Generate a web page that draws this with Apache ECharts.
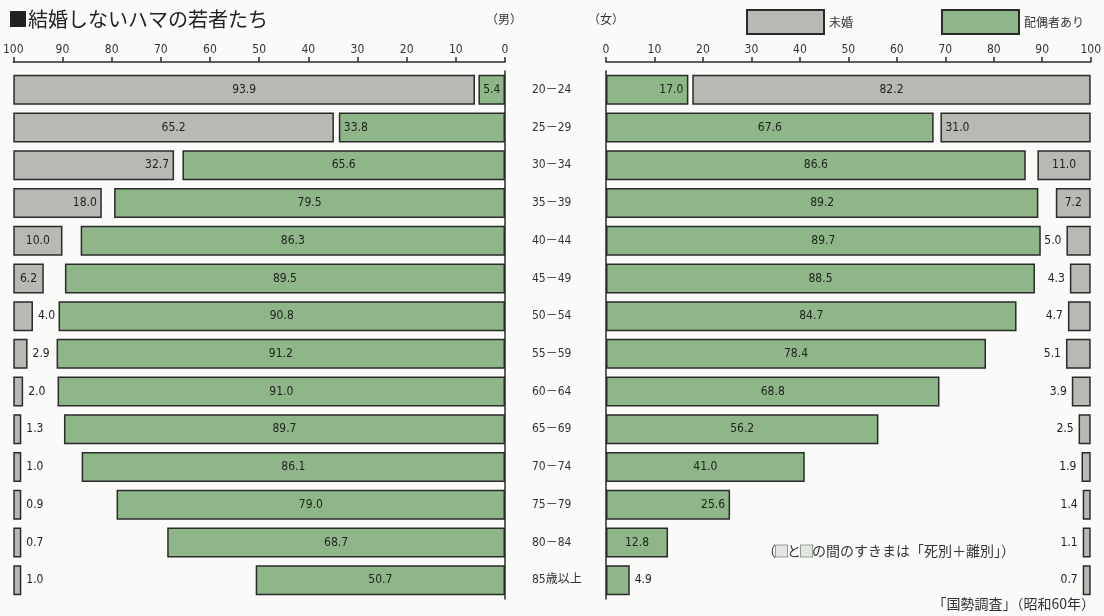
<!DOCTYPE html>
<html>
<head>
<meta charset="utf-8">
<title>結婚しないハマの若者たち</title>
<script src="https://cdn.jsdelivr.net/npm/echarts@6/dist/echarts.min.js"></script>
<style>
  html, body { margin: 0; padding: 0; background: #fafaf8; }
  #chart { width: 1104px; height: 616px; }
</style>
</head>
<body>
<div id="chart"></div>
<script>
// 年齢階級 (上から)
var ageGroups = ['20－24', '25－29', '30－34', '35－39', '40－44', '45－49', '50－54',
  '55－59', '60－64', '65－69', '70－74', '75－79', '80－84', '85歳以上']
// 男: 未婚 / 配偶者あり (%)
var maleUnmarried = [93.9, 65.2, 32.7, 18.0, 10.0, 6.2, 4.0, 2.9, 2.0, 1.3, 1.0, 0.9, 0.7, 1.0]
var maleMarried = [5.4, 33.8, 65.6, 79.5, 86.3, 89.5, 90.8, 91.2, 91.0, 89.7, 86.1, 79.0, 68.7, 50.7]
// 女: 配偶者あり / 未婚 (%)
var femaleMarried = [17.0, 67.6, 86.6, 89.2, 89.7, 88.5, 84.7, 78.4, 68.8, 56.2, 41.0, 25.6, 12.8, 4.9]
var femaleUnmarried = [82.2, 31.0, 11.0, 7.2, 5.0, 4.3, 4.7, 5.1, 3.9, 2.5, 1.9, 1.4, 1.1, 0.7]

var GRAY = '#b7b9b5'
var GREEN = '#8fb688'
var INK = '#2a2a2a'
var numFont = 'DejaVu Sans Condensed, Noto Sans CJK JP'
var jpFont = 'Noto Sans CJK JP'

// where each value label sits: outside for thin bars, at the far end for mid ones
function withLabels(values, outsidePos, endPos) {
  return values.map(function(v) {
    var pos = 'inside'
    if (v < 5.3) {
      pos = outsidePos
    } else if (v >= 15 && v < 35) {
      pos = endPos
    }
    return { value: v, label: { position: pos }}
  })
}

function barSeries(name, color, xIdx, yIdx, data) {
  return {
    name: name,
    type: 'bar',
    xAxisIndex: xIdx,
    yAxisIndex: yIdx,
    barWidth: 30,
    barGap: '-100%',
    barMinHeight: name === '未婚' ? 8 : 0,
    itemStyle: { color: color, borderColor: INK, borderWidth: 1.5 },
    label: {
      show: true,
      color: '#222',
      fontSize: 12,
      fontFamily: numFont,
      distance: 5,
      formatter: function(p) { return p.value.toFixed(1) }
    },
    data: data
  }
}

function pctAxis(grid, inverse, visible) {
  return {
    type: 'value',
    gridIndex: grid,
    min: 0,
    max: 100,
    interval: 10,
    inverse: inverse,
    position: 'top',
    offset: 9,
    show: visible,
    axisLine: { show: true, lineStyle: { color: INK, width: 1.5 }},
    axisTick: { show: true, length: 5, lineStyle: { color: INK, width: 1.5 }},
    axisLabel: { color: '#333', fontSize: 12, fontFamily: numFont, margin: 6 },
    splitLine: { show: false }
  }
}

var chart = echarts.init(document.getElementById('chart'))
chart.setOption({
  backgroundColor: '#fafaf8',
  animation: false,
  title: {
    text: '■結婚しないハマの若者たち',
    left: 8,
    top: 9,
    padding: 0,
    textStyle: { fontSize: 20, fontWeight: 'normal', color: '#222', fontFamily: jpFont }
  },
  legend: {
    data: ['未婚', '配偶者あり'],
    icon: 'rect',
    left: 741,
    top: 4,
    itemWidth: 77,
    itemHeight: 24,
    itemGap: 88,
    textStyle: { fontSize: 12, color: '#333', fontFamily: jpFont }
  },
  grid: [
    { left: 12, right: 599, top: 71, bottom: 17 },
    { left: 606, right: 11, top: 71, bottom: 17 }
  ],
  xAxis: [
    pctAxis(0, true, true),
    pctAxis(0, false, false),
    pctAxis(1, false, true),
    pctAxis(1, true, false)
  ],
  yAxis: [
    {
      type: 'category',
      gridIndex: 0,
      data: ageGroups,
      inverse: true,
      position: 'right',
      axisLine: { show: true, lineStyle: { color: INK, width: 1.5 }},
      axisTick: { show: false },
      axisLabel: { show: false }
    },
    {
      type: 'category',
      gridIndex: 1,
      data: ageGroups,
      inverse: true,
      position: 'left',
      axisLine: { show: true, lineStyle: { color: INK, width: 1.5 }},
      axisTick: { show: false },
      axisLabel: { align: 'left', margin: 74, fontSize: 12, color: '#333', fontFamily: numFont }
    }
  ],
  series: [
    barSeries('配偶者あり', GREEN, 0, 0, withLabels(maleMarried, 'left', 'insideLeft')),
    barSeries('未婚', GRAY, 1, 0, withLabels(maleUnmarried, 'right', 'insideRight')),
    barSeries('配偶者あり', GREEN, 2, 1, withLabels(femaleMarried, 'right', 'insideRight')),
    barSeries('未婚', GRAY, 3, 1, withLabels(femaleUnmarried, 'left', 'insideLeft'))
  ],
  graphic: [
    {
      type: 'text', left: 486, top: 13,
      style: { text: '（男）', fontSize: 12, fill: '#333', fontFamily: jpFont }
    },
    {
      type: 'text', left: 588, top: 13,
      style: { text: '（女）', fontSize: 12, fill: '#333', fontFamily: jpFont }
    },
    {
      type: 'text', left: 762, top: 544,
      style: {
        text: '（{g|}と{v|}の間のすきまは「死別＋離別」）',
        fontSize: 14,
        fill: '#333',
        fontFamily: jpFont,
        rich: {
          g: { width: 11, height: 11, backgroundColor: '#e4e4e2', borderColor: '#999', borderWidth: 1 },
          v: { width: 11, height: 11, backgroundColor: '#dfe8dc', borderColor: '#999', borderWidth: 1 }
        }
      }
    },
    {
      type: 'text', right: 9, top: 597,
      style: { text: '「国勢調査」（昭和60年）', fontSize: 14, fill: '#333', fontFamily: jpFont }
    }
  ]
})
</script>
</body>
</html>
